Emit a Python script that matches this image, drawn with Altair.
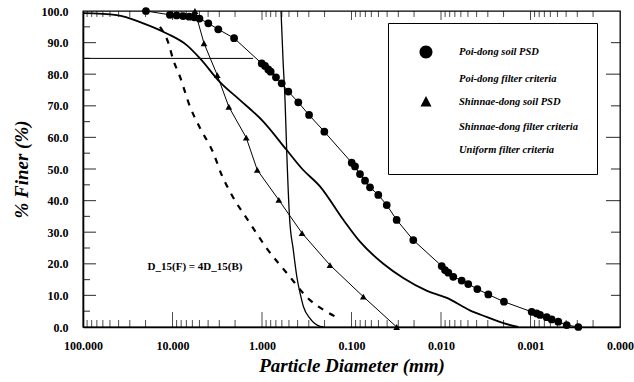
import altair as alt
import pandas as pd

# ---- particle size distribution data (diameter in mm, % finer) ----
poi_psd_d = [19.8, 10.7, 9.0, 7.6, 6.5, 5.7, 5.0, 3.98, 3.08, 2.05,
             1.007, 0.925, 0.851, 0.80, 0.698, 0.603, 0.508, 0.393, 0.298, 0.201,
             0.0995, 0.0914, 0.0804, 0.0706, 0.0621, 0.0502, 0.0404, 0.0313, 0.0204,
             0.00982, 0.00902, 0.00828, 0.00729, 0.00587, 0.00496, 0.00393, 0.00296,
             0.00198, 0.00097, 0.000853, 0.000783, 0.000659, 0.00058, 0.000489,
             0.000394, 0.000292]
poi_psd_p = [100.0, 98.8, 98.6, 98.4, 98.2, 98.0, 97.6, 96.1, 94.2, 91.4,
             83.4, 82.6, 81.5, 80.8, 79.0, 77.1, 74.5, 71.1, 67.1, 61.8,
             52.0, 50.8, 48.4, 46.3, 44.2, 41.8, 38.6, 33.9, 27.5,
             19.3, 18.0, 17.2, 15.9, 14.7, 13.6, 12.0, 10.3,
             8.0, 4.8, 4.3, 3.8, 3.1, 2.4, 1.7,
             0.6, 0.0]

poi_filter_d = [100, 42.0, 21.2, 11.6, 6.94, 4.93, 2.95, 1.76, 0.967, 0.53, 0.355,
                0.225, 0.124, 0.0804, 0.0441, 0.0264, 0.0145, 0.0086, 0.0047,
                0.0031, 0.0020, 0.00137]
poi_filter_p = [99.3, 98.7, 96.1, 92.9, 89.2, 85.0, 77.5, 71.8, 65.0, 56.0, 50.0,
                44.5, 34.0, 27.0, 20.0, 15.5, 11.5, 9.2, 5.2,
                3.2, 1.2, 0.0]

shin_psd_d = [5.61, 4.45, 3.16, 2.35, 1.50, 1.13, 0.649, 0.357, 0.174, 0.0738, 0.0313]
shin_psd_p = [100.0, 89.8, 79.7, 69.7, 59.9, 49.7, 40.2, 29.7, 19.6, 9.6, 0.0]

shin_filter_d = [13.8, 11.1, 9.8, 8.25, 6.37, 4.93, 3.50, 2.82, 2.28, 1.36, 0.885,
                 0.519, 0.291, 0.189, 0.140]
shin_filter_p = [95.0, 89.8, 84.5, 79.2, 69.7, 63.0, 55.1, 48.1, 42.8, 32.8, 24.9,
                 16.8, 8.5, 4.8, 2.8]

uniform_d = [0.613, 0.582, 0.553, 0.530, 0.493, 0.447, 0.406, 0.371, 0.344, 0.291,
             0.225, 0.205]
uniform_p = [100.0, 84.5, 71.8, 56.0, 34.9, 24.4, 15.5, 10.1, 6.4, 2.7, 0.2, 0.0]

# D85 of the Poi-dong soil
d85_d = [100, 1.26]
d85_p = [85, 85]

series_names = ["Poi-dong soil PSD", "Poi-dong filter criteria",
                "Shinnae-dong soil PSD", "Shinnae-dong filter criteria",
                "Uniform filter criteria"]

x_tick_values = [100, 10, 1, 0.1, 0.01, 0.001, 0.0001]
y_tick_values = [0, 10, 20, 30, 40, 50, 60, 70, 80, 90, 100]
annotation = "D_15(F) = 4D_15(B)"

FONT = "Liberation Serif"


def frame(ds, ps, name):
    return pd.DataFrame({"d": ds, "p": ps, "series": name, "ord": range(len(ds))})


poi_psd = frame(poi_psd_d, poi_psd_p, series_names[0])
poi_filter = frame(poi_filter_d, poi_filter_p, series_names[1])
shin_psd = frame(shin_psd_d, shin_psd_p, series_names[2])
shin_filter = frame(shin_filter_d, shin_filter_p, series_names[3])
uniform = frame(uniform_d, uniform_p, series_names[4])
d85 = frame(d85_d, d85_p, "D85")

x_scale = alt.Scale(type="log", domain=[0.0001, 100], reverse=True, nice=False)
y_scale = alt.Scale(domain=[0, 100], nice=False)

x_axis = alt.Axis(values=x_tick_values, format=".3f", ticks=False, tickSize=0,
                  grid=False, labelFlush=False, labelOverlap=False,
                  labelFont=FONT, labelFontSize=12, labelFontWeight="bold",
                  labelPadding=13, title="Particle Diameter (mm)", titleFont=FONT,
                  titleFontSize=19, titleFontWeight="bold", titleFontStyle="italic",
                  titlePadding=5)
y_axis = alt.Axis(values=y_tick_values, format=".1f", ticks=False, tickSize=0,
                  grid=False, labelFlush=False, labelOverlap=False,
                  labelFont=FONT, labelFontSize=12, labelFontWeight="bold",
                  labelPadding=15, title="% Finer (%)", titleFont=FONT,
                  titleFontSize=19, titleFontWeight="bold", titleFontStyle="italic",
                  titlePadding=10)


def X():
    return alt.X("d:Q", scale=x_scale, axis=x_axis)


def Y():
    return alt.Y("p:Q", scale=y_scale, axis=y_axis)


def curve(df, width, dash=None, interp="linear"):
    kw = dict(color="black", strokeWidth=width, interpolate=interp)
    if dash:
        kw["strokeDash"] = dash
    return alt.Chart(df).mark_line(**kw).encode(x=X(), y=Y(), order="ord:Q")


layers = [
    curve(d85, 1.0),
    curve(uniform, 1.3, interp="monotone"),
    curve(shin_filter, 2.2, dash=[6, 7], interp="monotone"),
    curve(poi_filter, 1.8, interp="monotone"),
    curve(shin_psd, 1.0),
    curve(poi_psd, 1.0),
    alt.Chart(poi_psd).mark_point(shape="circle", filled=True, color="black",
                                  size=60, opacity=1).encode(x=X(), y=Y()),
    alt.Chart(shin_psd).mark_point(shape="triangle-up", filled=True, color="black",
                                   size=45, opacity=1).encode(x=X(), y=Y()),
    alt.Chart(pd.DataFrame({"d": [5.6], "p": [19.0]})).mark_text(
        text=annotation, font=FONT, fontSize=11, fontWeight="bold", color="black"
    ).encode(x=X(), y=Y()),
]

# legend symbols: line segment with marker, drawn as custom symbol paths
legend_paths = [
    "M-1.1,0H2.9M0.25,0A0.65,0.65 0 1,1 1.55,0A0.65,0.65 0 1,1 0.25,0Z",
    "M-1.1,0H2.9",
    "M-1.1,0H2.9M0.9,-0.6L1.45,0.45L0.35,0.45Z",
    "M-1.1,0H-0.3M0.5,0H1.3M2.1,0H2.9",
    "M-1.1,0H2.9",
]
legend_layer = alt.Chart(poi_psd).mark_point(filled=True, color="black").encode(
    x=X(), y=Y(),
    shape=alt.Shape("series:N",
                    scale=alt.Scale(domain=series_names, range=legend_paths),
                    legend=alt.Legend(
                        orient="none", legendX=305, legendY=12, title=None,
                        padding=18, strokeColor="black", fillColor="white",
                        symbolSize=400, symbolStrokeWidth=1.2,
                        symbolStrokeColor="black", symbolFillColor="black",
                        symbolOpacity=1, labelOffset=31, rowPadding=6.5,
                        labelFont=FONT, labelFontSize=10.5, labelFontWeight="bold",
                        labelFontStyle="italic", labelColor="black", labelLimit=300)),
).transform_filter("false")
layers.append(legend_layer)

# inward-pointing axis ticks
x_minor = [m * 10.0 ** k for k in range(-4, 2) for m in range(2, 10)]
x_major = [10, 1, 0.1, 0.01, 0.001]
y_major_left = [10, 20, 30, 40, 50, 60, 70, 80, 90]
y_minor_left = [5, 15, 25, 35, 45, 55, 65, 75, 85, 95]
y_long_right = [20, 40, 60, 80]
y_short_right = [10, 30, 50, 70, 90]


def xticks(vals, edge, size, sign):
    df = pd.DataFrame({"d": vals, "p": edge})
    return alt.Chart(df).mark_tick(orient="vertical", size=size, thickness=1,
                                   color="black", yOffset=sign * size / 2).encode(
        x=X(), y=Y())


def yticks(vals, edge, size, sign):
    df = pd.DataFrame({"d": edge, "p": vals})
    return alt.Chart(df).mark_tick(orient="horizontal", size=size, thickness=1.2,
                                   color="black", xOffset=sign * size / 2).encode(
        x=X(), y=Y())


layers += [
    xticks(x_minor, 0, 7, -1),
    xticks(x_major, 0, 15, -1),
    xticks(x_minor, 100, 6, 1),
    xticks(x_major, 100, 9, 1),
    yticks(y_major_left, 100, 13, 1),
    yticks(y_minor_left, 100, 7, 1),
    yticks(y_long_right, 0.0001, 14, -1),
    yticks(y_short_right, 0.0001, 9, -1),
]

chart = alt.layer(*layers).properties(
    width=537, height=316,
    autosize=alt.AutoSizeParams(type="none"),
    padding={"left": 83, "top": 11, "right": 14, "bottom": 55},
    background="white",
).configure_view(
    stroke="black", strokeWidth=1.3
).configure_axis(
    domainColor="black", domainWidth=1.6, labelColor="black", titleColor="black"
)

chart.save("out.html", embed_options={"renderer": "svg", "actions": False})
